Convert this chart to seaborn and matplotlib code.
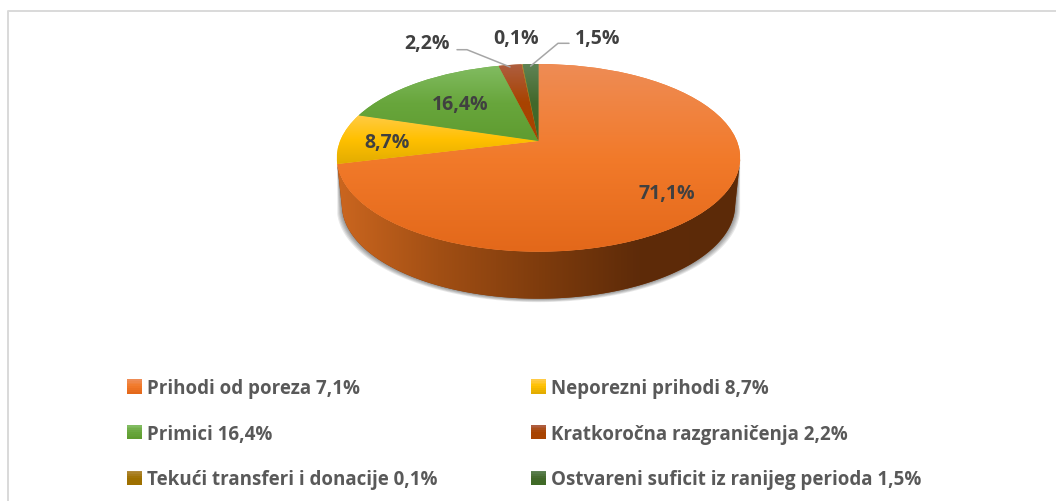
import numpy as np
import matplotlib
matplotlib.use("Agg")
import matplotlib.pyplot as plt
from matplotlib.legend_handler import HandlerBase
from matplotlib.patches import Polygon, Rectangle, Wedge
from matplotlib.transforms import Transform
import seaborn as sns

# data
categories = ["Prihodi od poreza 7,1%", "Neporezni prihodi 8,7%", "Primici 16,4%",
              "Kratkoročna razgraničenja 2,2%", "Tekući transferi i donacije 0,1%",
              "Ostvareni suficit iz ranijeg perioda 1,5%"]
shares = [71.1, 8.7, 16.4, 2.2, 0.1, 1.5]
base_colors = ["#F27A2A", "#FFC000", "#68A63C", "#A84300", "#9E7000", "#43682B"]
top_colors = ["#EE8C55", "#FFCB45", "#82BC62", "#AE5E40", "#B08A3A", "#5F8355"]
low_colors = ["#E3681A", "#E2AC00", "#5F9C30", "#A84300", "#9E7000", "#3F6A26"]
wall_colors = ["#CB661F", "#A24F14", "#7F3C0D", "#5E2B09", "#5C2A08"]

# pie geometry in picture pixels
cx, cy = 538.5, 142.0
a, b, k = 198.4, 90.8, 0.1795
depth = 47.0


class Tilt(Transform):
    # perspective view of the unit circle
    input_dims = 2
    output_dims = 2

    def transform_non_affine(self, xy):
        xy = np.asarray(xy, dtype=float)
        w = 1 + k * xy[:, 1]
        return np.column_stack([cx + a * xy[:, 0] / w, cy - b * xy[:, 1] / w])


class GradientSwatch(HandlerBase):
    def create_artists(self, legend, orig_handle, xdescent, ydescent, width, height, fontsize, trans):
        i = legend_wedges.index(orig_handle)
        cols = sns.blend_palette([top_colors[i], base_colors[i], low_colors[i]], 8)
        out = []
        for j, c in enumerate(cols):
            out.append(Rectangle((-xdescent, -ydescent + height * (7 - j) / 8), width, height / 8 + 0.2,
                                 facecolor=c, edgecolor="none", transform=trans))
        return out


sns.set_theme(style="white")
plt.rcParams["font.family"] = ["Open Sans", "DejaVu Sans"]
plt.rcParams["font.weight"] = "bold"

fig = plt.figure(figsize=(10.56, 5.02), dpi=100)
ax = fig.add_axes([0, 0, 1, 1])

tilt = Tilt()
wedges, _ = ax.pie(shares, colors=base_colors, startangle=90, counterclock=False, radius=1,
                   frame=True, wedgeprops={"linewidth": 0})
for w in wedges:
    w.set_transform(tilt + ax.transData)

# side wall of the slice in front
t = np.radians(np.linspace(wedges[0].theta1, wedges[0].theta2, 300))
t = t[np.sin(t) + k <= 0]
ring = tilt.transform_non_affine(np.column_stack([np.cos(t), np.sin(t)]))
low = ring.copy()
low[:, 0] = cx + 0.5 + (low[:, 0] - cx - 0.5) * 0.975
low[:, 1] += depth

# soft shadow below the wall
for grow in [5, 4, 3, 2, 1]:
    sh = low.copy()
    sh[:, 0] = cx + 0.5 + (sh[:, 0] - cx - 0.5) * (1 + grow / 196)
    sh[:, 1] += grow * 0.7
    ax.add_patch(Polygon(np.vstack([ring, sh[::-1]]), closed=True, facecolor="black",
                         edgecolor="none", alpha=0.09, zorder=0.5))

wall = Polygon(np.vstack([ring, low[::-1]]), closed=True, facecolor=wall_colors[2],
               edgecolor="none", zorder=0.8)
ax.add_patch(wall)
wall_cmap = sns.blend_palette(wall_colors, as_cmap=True)
im = ax.imshow(np.linspace(0, 1, 256)[None, :], cmap=wall_cmap, aspect="auto", zorder=0.9,
               extent=[ring[:, 0].min(), ring[:, 0].max(), low[:, 1].max(), ring[:, 1].min()])
im.set_clip_path(wall)

# top face: vertical shading per slice
for i, w in enumerate(wedges):
    w.set_zorder(1)
    box = tilt.transform_path(w.get_path()).get_extents()
    cmap = sns.blend_palette([top_colors[i], base_colors[i], low_colors[i]], as_cmap=True)
    im = ax.imshow(np.linspace(0, 1, 256)[:, None], cmap=cmap, aspect="auto", zorder=1.1,
                   extent=[box.x0, box.x1, box.y1, box.y0])
    im.set_clip_path(w)

# value labels
label_xy = [(667, 194), (387, 143), (460, 105), (427, 44), (516, 39), (598, 39)]
for v, (x, y) in zip(shares, label_xy):
    ax.text(x, y, f"{v:.1f}%".replace(".", ","), ha="center", va="center",
            fontsize=14, color="#404040", zorder=3)

# leader lines for the two thin slices
for i, elbow in [(3, [(457, 50.7), (467, 50.7)]), (5, [(569, 44.3), (558, 44.3)])]:
    mid = np.radians((wedges[i].theta1 + wedges[i].theta2) / 2)
    tip = tilt.transform_non_affine(np.array([[np.cos(mid), np.sin(mid)]]))[0]
    pts = np.array(elbow + [tuple(tip + [0, 2])])
    ax.plot(pts[:, 0], pts[:, 1], color="#A6A6A6", lw=1.1, zorder=2)

# chart frame
ax.plot([8, 8, 1056], [502, 12, 12], color="#D9D9D9", lw=1.4, zorder=0.2)

ax.set_xlim(0, 1056)
ax.set_ylim(502, 0)
ax.set_aspect("auto")
ax.axis("off")

# legend, filled column by column
order = [0, 2, 4, 1, 3, 5]
legend_wedges = [wedges[i] for i in range(6)]
fs = 13.5
px = fs * 100 / 72
leg = ax.legend([wedges[i] for i in order], [categories[i] for i in order], ncol=2,
                loc="upper left", bbox_to_anchor=(127 / 1056, 1 - 379 / 502), frameon=False,
                fontsize=fs, labelcolor="#595959", handlelength=15 / px, handleheight=15 / px,
                handletextpad=5 / px, borderpad=0, borderaxespad=0, columnspacing=5,
                labelspacing=(44.5 - px) / px, handler_map={Wedge: GradientSwatch()})

fig.savefig("out.png", dpi=100, facecolor="white")
